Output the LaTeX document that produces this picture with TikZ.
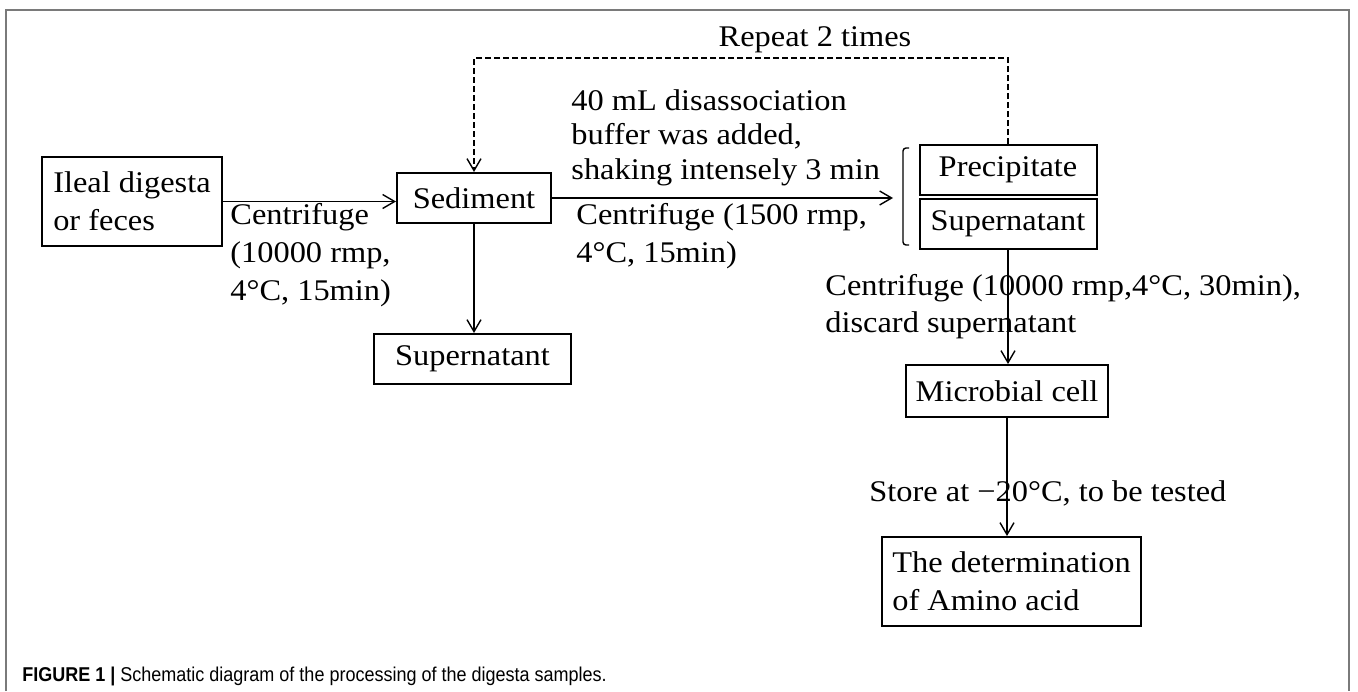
\documentclass[tikz,border=0pt]{standalone}
\usepackage{fontspec}
\setmainfont[FakeStretch=1.08]{Liberation Serif}
\newfontfamily\capfont[FakeStretch=0.9]{Liberation Sans}
\usetikzlibrary{arrows.meta}
\definecolor{framegray}{HTML}{7A7A7A}
\begin{document}
\begin{tikzpicture}[x=0.5pt,y=-0.5pt,
  box/.style={draw,line width=1pt,inner sep=0pt,align=left,font=\fontsize{15}{19}\selectfont},
  lbl/.style={inner sep=0pt,align=left,anchor=west,font=\fontsize{15}{19}\selectfont},
  conn/.style={line width=0.7pt,-{Straight Barb[length=6pt,width=7pt]}},
  repeatline/.style={line width=0.7pt,dash pattern=on 3pt off 1.5pt}
]
\useasboundingbox (0,0) rectangle (1358,691);
\draw[framegray,line width=1pt] (6,691) -- (6,10) -- (1349,10) -- (1349,691);

% boxes
\node[box,minimum width=90pt,minimum height=44.5pt] (ileal) at (132,201.5) {Ileal digesta\\or feces};
\node[box,minimum width=77pt,minimum height=25pt] (sed) at (474,198) {Sediment};
\node[box,minimum width=98.5pt,minimum height=25pt] (supL) at (472.5,359) {Supernatant};
\node[box,minimum width=88.5pt,minimum height=25pt] (prec) at (1008,170) {Precipitate};
\node[box,minimum width=88.5pt,minimum height=25pt] (supR) at (1008,224) {Supernatant};
\node[box,minimum width=101pt,minimum height=26pt] (micro) at (1007,391) {Microbial cell};
\node[box,minimum width=129.5pt,minimum height=44.5pt] (det) at (1011.5,581.5) {The determination\\of Amino acid};

% bracket
\coordinate (brk) at (893,197);
\draw[line width=0.7pt,rounded corners=1.5pt] (909,148) -- (903,148) -- (903,245) -- (909,245);

% connectors
\draw[conn] (ileal.east) -- (ileal.east -| sed.west);
\draw[conn] (sed.south) -- (sed.south |- supL.north);
\draw[conn] (sed.east) -- (sed.east -| brk);
\draw[conn] (supR.south) -- (supR.south |- micro.north);
\draw[conn] (micro.south) -- (micro.south |- det.north);
\coordinate (top) at (0,58);
\draw[repeatline,-{Straight Barb[length=6pt,width=7pt]}] (prec.north) -- (prec.north |- top) -- (sed.north |- top) -- (sed.north);

% labels
\node[lbl] (l1) at (230,255) {Centrifuge\\(10000 rmp,\\4°C, 15min)};
\node[lbl,font=\fontsize{15}{17.25}\selectfont] (l2) at (571,137.5) {40 mL disassociation\\buffer was added,\\shaking intensely 3 min};
\node[lbl] (l3) at (576,236) {Centrifuge (1500 rmp,\\4°C, 15min)};
\node[lbl,font=\fontsize{15}{18.5}\selectfont] (l4) at (825,306.5) {Centrifuge (10000 rmp,4°C, 30min),\\discard supernatant};
\node[lbl] (l5) at (869,493) {Store at −20°C, to be tested};
\node[inner sep=0pt,font=\fontsize{15}{19}\selectfont] (rep) at (815,40) {Repeat 2 times};

% caption
\node[anchor=west,inner sep=0pt,font=\capfont\fontsize{10}{12}\selectfont] (cap) at (22,676) {\textbf{FIGURE 1 |} Schematic diagram of the processing of the digesta samples.};
\end{tikzpicture}
\end{document}
